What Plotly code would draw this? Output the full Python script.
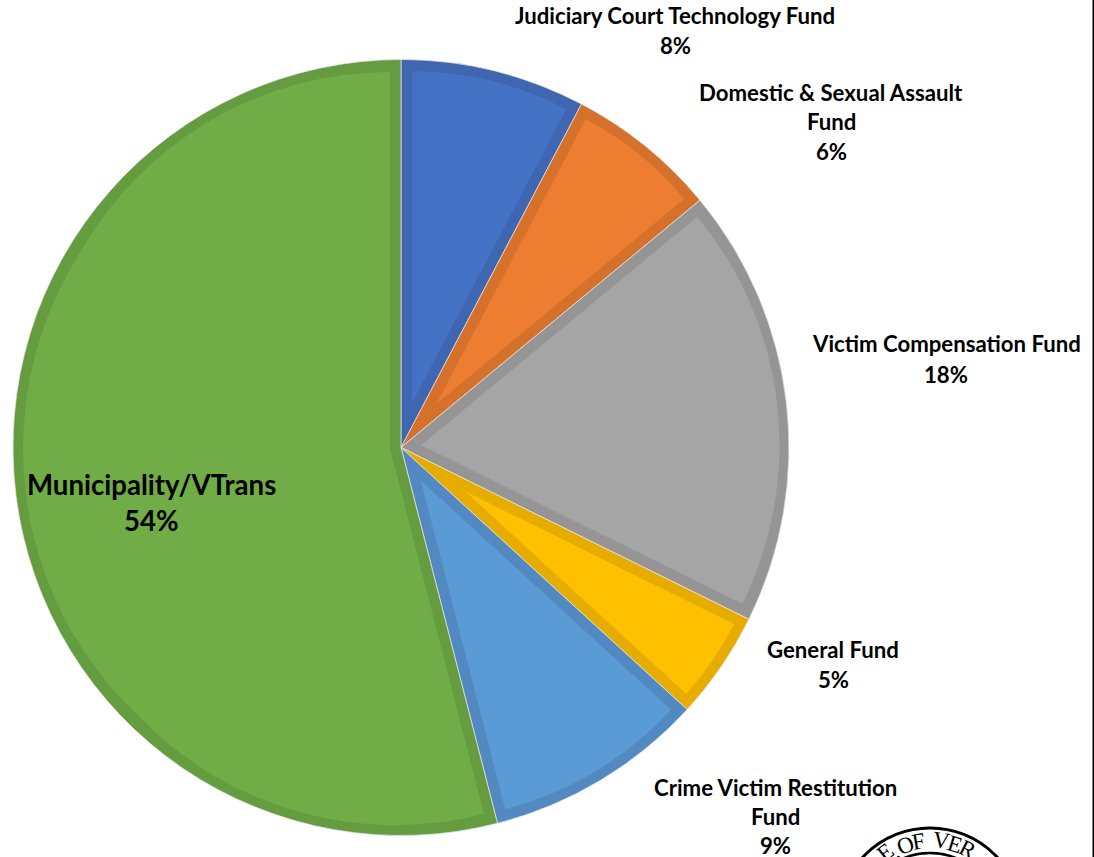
import math
import plotly.graph_objects as go

W, H = 1094, 857
categories = ["Judiciary Court Technology Fund", "Domestic & Sexual Assault Fund",
              "Victim Compensation Fund", "General Fund",
              "Crime Victim Restitution Fund", "Municipality/VTrans"]
values = [7.7, 6.3, 18.3, 4.5, 9.2, 54.0]
fill_colors = ["#4472C4", "#ED7D31", "#A5A5A5", "#FFC000", "#5B9BD5", "#70AD47"]
edge_colors = ["#3E66B1", "#D6712C", "#959595", "#E6AD00", "#5289C0", "#659C40"]

CX, CY, R, BAND = 401, 447.5, 388, 11
FS, FL = 22.2, 27.6
label_lines = [
    ("Judiciary Court Technology Fund", 675, 16, FS),
    ("8%", 675, 45, FS),
    ("Domestic & Sexual Assault", 831, 92, FS),
    ("Fund", 831, 122, FS),
    ("6%", 831, 151, FS),
    ("Victim Compensation Fund", 946, 344, FS),
    ("18%", 946, 374, FS),
    ("General Fund", 833, 649, FS),
    ("5%", 833, 679, FS),
    ("Crime Victim Restitution", 775, 787, FS),
    ("Fund", 775, 816, FS),
    ("9%", 775, 845, FS),
    ("Municipality/VTrans", 151, 484, FL),
    ("54%", 151, 520, FL),
]
seal_letters = [("E", 885, 852, -38), (",", 895, 851, -30), ("O", 905, 845, -20), ("F", 918, 841, -10),
                ("V", 941, 840, 8), ("E", 955, 844, 17), ("R", 968, 849, 27)]


def domain(radius):
    return dict(x=[(CX - radius) / W, (CX + radius) / W],
                y=[1 - (CY + radius) / H, 1 - (CY - radius) / H])


fig = go.Figure()
# outer pie: the darker band of every slice
fig.add_trace(go.Pie(values=values, labels=categories, sort=False, direction="clockwise",
                     rotation=0, textinfo="none", hoverinfo="label+percent", showlegend=False,
                     marker=dict(colors=edge_colors, line=dict(color="#E8E8E8", width=0.7)),
                     domain=domain(R)))

count = [0]


def add_wedge(start_deg, span_deg, color, shift, r):
    """Lighter wedge whose tip is moved out along its bisector by `shift` pixels."""
    pull = shift / r
    count[0] += 1
    fig.add_trace(go.Pie(values=[span_deg, 360 - span_deg],
                         labels=[f"fill {count[0]}", f"rest {count[0]}"],
                         sort=False, direction="clockwise", rotation=start_deg,
                         textinfo="none", hoverinfo="skip", showlegend=False, pull=[pull, 0],
                         marker=dict(colors=[color, "rgba(0,0,0,0)"], line=dict(width=0)),
                         domain=domain(r * (1 + pull))))


def add_inset(start_deg, span_deg, color):
    half = math.radians(span_deg / 2)
    shift = BAND / math.sin(half)
    outer = R - BAND
    add_wedge(start_deg, span_deg, color, shift, outer - shift * (1 + math.cos(half)) / 2)


total = sum(values)
start = 0.0
for v, color in zip(values, fill_colors):
    span = 360 * v / total
    if span > 180:
        # a slice wider than a half turn is filled from several wedges so it reaches its arc
        outer = R - BAND
        tip = BAND / math.sin(math.radians(span / 2))
        add_wedge(start, span, color, tip, outer - tip)
        add_inset(start, 60, color)
        add_inset(start + span - 60, 60, color)
        add_wedge(start + 45, span - 90, color, tip, outer - tip + 1)
    else:
        add_inset(start, span, color)
    start += span

for text, x, y, size in label_lines:
    fig.add_annotation(text=text, x=x / W, y=1 - y / H, xref="paper", yref="paper",
                       showarrow=False, xanchor="center", yanchor="middle",
                       font=dict(family="Lato", size=size, color="#000000", weight="bold"))
for text, x, y, angle in seal_letters:
    fig.add_annotation(text=text, x=x / W, y=1 - y / H, xref="paper", yref="paper",
                       showarrow=False, textangle=angle, xanchor="center", yanchor="middle",
                       font=dict(family="Liberation Serif", size=23, color="#000000"))


def circle(cx, cy, rad, width):
    fig.add_shape(type="circle", xref="paper", yref="paper",
                  x0=(cx - rad) / W, x1=(cx + rad) / W,
                  y0=1 - (cy + rad) / H, y1=1 - (cy - rad) / H,
                  line=dict(color="#000000", width=width), fillcolor="rgba(0,0,0,0)")


circle(930, 920, 92, 3)
circle(930, 920, 67, 2.5)
fig.add_shape(type="line", xref="paper", yref="paper", x0=1093.5 / W, x1=1093.5 / W, y0=0, y1=1,
              line=dict(color="#000000", width=2))

fig.update_layout(width=W, height=H, margin=dict(l=0, r=0, t=0, b=0),
                  paper_bgcolor="#FFFFFF", showlegend=False)
fig.write_html("out.html", config={"displayModeBar": False},
               post_script="document.body.style.margin='0';")
